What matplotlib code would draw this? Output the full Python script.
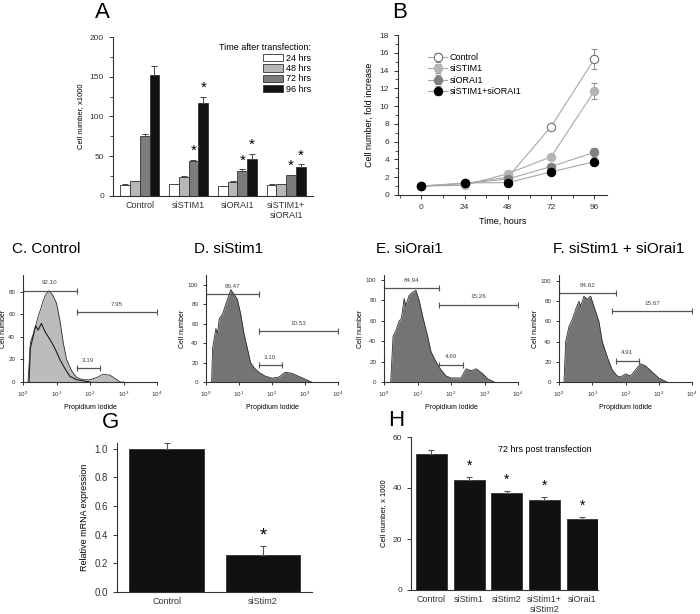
import numpy as np
import matplotlib
matplotlib.use('Agg')
import matplotlib.pyplot as plt
from matplotlib.ticker import MultipleLocator, FixedLocator, NullLocator

plt.rcParams['font.family'] = ['Liberation Sans', 'DejaVu Sans']
plt.rcParams['mathtext.default'] = 'regular'
plt.rcParams['axes.edgecolor'] = '#333333'
plt.rcParams['xtick.color'] = '#333333'
plt.rcParams['ytick.color'] = '#333333'

# ---------------- data ----------------
# A: cell number x1000 by time after transfection
grupos_a = ['Control', 'siSTIM1', 'siORAI1', 'siSTIM1+\nsiORAI1']
tiempos_a = ['24 hrs', '48 hrs', '72 hrs', '96 hrs']
val_24 = [14, 14.5, 12, 14]
val_48 = [18.5, 24, 17.5, 14.5]
val_72 = [76, 44, 32, 26]
val_96 = [152, 117, 47, 37]
err_24 = [0.8, 0.8, 0.6, 0.6]
err_48 = [0.8, 0.8, 1.5, 1.0]
err_72 = [2.5, 1.5, 1.5, 1.0]
err_96 = [11, 8, 6, 3]
estrellas_a = [(1, 2), (1, 3), (2, 2), (2, 3), (3, 2), (3, 3)]

# B: fold increase
horas_b = [0, 24, 48, 72, 96]
series_b = ['Control', 'siSTIM1', 'siORAI1', 'siSTIM1+siORAI1']
fold_control = [1.0, 1.3, 2.0, 7.7, 15.3]
fold_stim1 = [1.0, 1.1, 2.4, 4.3, 11.7]
fold_orai1 = [1.0, 1.3, 1.8, 3.2, 4.8]
fold_combo = [1.0, 1.35, 1.4, 2.6, 3.75]
errb_control = [0.05, 0.1, 0.15, 0.2, 1.1]
errb_stim1 = [0.05, 0.1, 0.2, 0.3, 0.9]
errb_orai1 = [0.05, 0.1, 0.15, 0.3, 0.5]
errb_combo = [0.05, 0.1, 0.1, 0.2, 0.2]

# C-F: histograms (log10 of PI intensity, cell count)
c_x = [0.15, 0.22, 0.3, 0.38, 0.45, 0.53, 0.6, 0.68, 0.78, 0.89, 1.0, 1.1, 1.2, 1.3,
       1.45, 1.6, 1.8, 2.0, 2.2, 2.4, 2.6, 2.8, 2.9, 3.0]
c_y = [0, 35, 42, 50, 58, 65, 72, 78, 81, 77, 70, 55, 35, 20, 10, 4, 2, 2, 4, 7, 6, 2, 0, 0]
c2_x = [0.18, 0.22, 0.3, 0.38, 0.45, 0.55, 0.65, 0.8, 0.95, 1.1, 1.25, 1.4, 1.6, 1.8, 2.0]
c2_y = [0, 30, 40, 50, 46, 52, 45, 38, 30, 20, 12, 5, 2, 1, 0]
d_x = [0.17, 0.2, 0.3, 0.35, 0.4, 0.5, 0.6, 0.75, 0.85, 0.95, 1.05, 1.15, 1.25, 1.35,
       1.45, 1.6, 1.8, 2.0, 2.2, 2.4, 2.6, 2.8, 3.0, 3.2]
d_y = [0, 35, 55, 50, 65, 70, 80, 95, 90, 85, 70, 50, 35, 20, 15, 10, 6, 4, 5, 10, 9, 6, 3, 0]
e_x = [0.2, 0.27, 0.35, 0.45, 0.52, 0.6, 0.65, 0.75, 0.85, 0.95, 1.05, 1.15, 1.3, 1.4,
       1.55, 1.7, 1.85, 2.0, 2.3, 2.45, 2.6, 2.75, 2.95, 3.1, 3.3]
e_y = [0, 45, 50, 60, 62, 82, 75, 85, 88, 90, 80, 65, 45, 30, 20, 12, 6, 4, 4, 13, 11, 13, 8, 3, 0]
f_x = [0.15, 0.2, 0.3, 0.4, 0.5, 0.6, 0.65, 0.75, 0.85, 0.95, 1.05, 1.2, 1.3, 1.45,
       1.6, 1.75, 1.85, 2.0, 2.15, 2.3, 2.45, 2.6, 2.8, 3.0, 3.25]
f_y = [0, 40, 55, 62, 72, 80, 75, 85, 82, 85, 75, 60, 40, 25, 12, 6, 5, 8, 6, 12, 18, 16, 10, 4, 0]

# gates: (label, log lo, log hi, y)
gates_c = [('92.10', 0.0, 1.6, 81), ('7.95', 1.6, 4.0, 62), ('3.19', 1.6, 2.3, 12)]
gates_d = [('89.47', 0.0, 1.6, 90), ('10.53', 1.6, 4.0, 52), ('3.10', 1.6, 2.3, 17)]
gates_e = [('84.94', 0.0, 1.65, 92), ('15.26', 1.65, 4.0, 76), ('4.69', 1.65, 2.35, 17)]
gates_f = [('84.62', 0.0, 1.7, 88), ('15.67', 1.6, 4.0, 70), ('4.91', 1.7, 2.4, 21)]

# G: relative mRNA
grupos_g = ['Control', 'siStim2']
val_g = [1.0, 0.26]
err_g = [0.04, 0.06]

# H: cell number 72 h
grupos_h = ['Control', 'siStim1', 'siStim2', 'siStim1+\nsiStim2', 'siOrai1']
val_h = [53.5, 43, 38, 35.3, 28]
err_h = [1.5, 1.3, 1.0, 1.3, 0.6]

# ---------------- figure ----------------
W, H = 700, 614
fig = plt.figure(figsize=(7.0, 6.14), dpi=100)


def caja(l, t, r, b):
    return [l / W, 1 - b / H, (r - l) / W, (b - t) / H]


def estilo(ax, fs=6):
    ax.spines['top'].set_visible(False)
    ax.spines['right'].set_visible(False)
    ax.tick_params(direction='out', labelsize=fs, length=3, width=0.7)
    ax.tick_params(which='minor', direction='out', length=2, width=0.6)
    for s in ax.spines.values():
        s.set_linewidth(0.8)


# ---- A ----
ax = fig.add_axes(caja(113, 37, 313, 196))
estilo(ax)
x = np.arange(len(grupos_a))
w = 0.2
colores_a = ['white', '#b8b8b8', '#7c7c7c', '#121212']
vals = [val_24, val_48, val_72, val_96]
errs = [err_24, err_48, err_72, err_96]
for i in range(4):
    xs = x + (i - 1.5) * w
    ax.bar(xs, vals[i], w, color=colores_a[i], edgecolor='#333333', linewidth=0.6,
           label=tiempos_a[i])
    ax.errorbar(xs, vals[i], yerr=[np.zeros(4), errs[i]], fmt='none', ecolor='#444444',
                elinewidth=0.7, capsize=2, capthick=0.7)
for g, t in estrellas_a:
    xs = g + (t - 1.5) * w
    ax.text(xs, vals[t][g] + errs[t][g] + 2, '*', ha='center', va='bottom', fontsize=11)
ax.set_xlim(-0.55, 3.55)
ax.set_ylim(0, 200)
ax.yaxis.set_major_locator(MultipleLocator(50))
ax.yaxis.set_minor_locator(MultipleLocator(25))
ax.set_xticks(x)
ax.set_xticklabels(grupos_a, fontsize=6.5)
ax.tick_params(axis='x', length=0)
ax.set_ylabel('Cell number, x1000', fontsize=5.5)
leg = ax.legend(loc='upper right', bbox_to_anchor=(1.02, 1.0), frameon=False, fontsize=6.5,
                title='Time after transfection:', title_fontsize=6.5, handlelength=2.2,
                handleheight=0.9, labelspacing=0.15, borderpad=0.2, handletextpad=0.3)
leg._legend_box.align = 'right'
fig.text(95 / W, 1 - 12 / H, 'A', fontsize=16, va='center', ha='left')

# ---- B ----
ax = fig.add_axes(caja(398, 35, 607, 195))
estilo(ax)
estilos_b = [('white', '#707070'), ('#b5b5b5', '#b5b5b5'), ('#808080', '#808080'), ('#000000', '#000000')]
datos_b = [fold_control, fold_stim1, fold_orai1, fold_combo]
errores_b = [errb_control, errb_stim1, errb_orai1, errb_combo]
for i in range(4):
    ax.errorbar(horas_b, datos_b[i], yerr=errores_b[i], color='#a8a8a8', lw=0.8,
                ecolor='#909090', elinewidth=0.8, capsize=2, marker='o', markersize=6,
                markerfacecolor=estilos_b[i][0], markeredgecolor=estilos_b[i][1],
                markeredgewidth=0.8, label=series_b[i])
ax.set_xlim(-13, 103)
ax.set_ylim(0, 18)
ax.set_xticks(horas_b)
ax.xaxis.set_minor_locator(MultipleLocator(12))
ax.yaxis.set_major_locator(MultipleLocator(2))
ax.yaxis.set_minor_locator(MultipleLocator(1))
ax.set_xlabel('Time, hours', fontsize=6.5)
ax.set_ylabel('Cell number, fold increase', fontsize=6.5)
ax.legend(loc='upper left', bbox_to_anchor=(0.12, 0.92), frameon=False, fontsize=6.5,
          handlelength=2.0, labelspacing=0.25, borderpad=0.1, handletextpad=0.3)
fig.text(392 / W, 1 - 12 / H, 'B', fontsize=16, va='center', ha='left')

# ---- C-F ----
paneles = [
    (caja(23, 275, 157, 382), 95, 'C. Control', 12, [c_x], [c_y], '#bcbcbc', gates_c),
    (caja(206, 275, 338, 382), 110, 'D. siStim1', 194, [d_x], [d_y], '#747474', gates_d),
    (caja(384, 275, 518, 382), 105, 'E. siOrai1', 376, [e_x], [e_y], '#747474', gates_e),
    (caja(559, 275, 692, 382), 106, 'F. siStim1 + siOrai1', 553, [f_x], [f_y], '#747474', gates_f),
]
for pos, ymax, titulo, tx, hx, hy, col, gates in paneles:
    ax = fig.add_axes(pos)
    estilo(ax, fs=4.5)
    ax.tick_params(length=2)
    ax.set_xscale('log')
    for xx, yy in zip(hx, hy):
        xv = 10 ** np.array(xx)
        ax.fill_between(xv, yy, color=col, lw=0)
        ax.plot(xv, yy, color='#303030', lw=0.6)
    if titulo.startswith('C'):
        ax.plot(10 ** np.array(c2_x), c2_y, color='#202020', lw=0.8)
    for lab, lo, hi, yg in gates:
        ax.plot([10 ** lo, 10 ** hi], [yg, yg], color='#555555', lw=0.9, marker='|',
                markersize=4, markeredgewidth=0.8)
        ax.text(10 ** ((lo + hi) / 2), yg + ymax * 0.05, lab, ha='center', va='bottom',
                fontsize=4.5, color='#444444')
    ax.set_xlim(1, 1e4)
    ax.set_ylim(0, ymax)
    ax.xaxis.set_major_locator(FixedLocator([1, 10, 100, 1000, 10000]))
    ax.xaxis.set_minor_locator(NullLocator())
    ax.yaxis.set_major_locator(MultipleLocator(20))
    ax.set_xlabel('Propidium Iodide', fontsize=5)
    ax.set_ylabel('Cell number', fontsize=5, labelpad=1)
    fig.text(tx / W, 1 - 249 / H, titulo, fontsize=11, va='center', ha='left')

# ---- G ----
ax = fig.add_axes(caja(117, 443, 312, 592))
estilo(ax)
xg = np.arange(len(grupos_g))
ax.bar(xg, val_g, 0.78, color='#111111', edgecolor='#333333', linewidth=0.6)
ax.errorbar(xg, val_g, yerr=[np.zeros(2), err_g], fmt='none', ecolor='#555555',
            elinewidth=0.8, capsize=2.5, capthick=0.8)
ax.text(xg[1], val_g[1] + err_g[1] + 0.015, '*', ha='center', va='bottom', fontsize=13)
ax.set_xlim(-0.52, 1.51)
ax.set_ylim(0, 1.04)
ax.yaxis.set_major_locator(MultipleLocator(0.2))
ax.set_yticklabels([])
ax.set_yticks(np.arange(0, 1.01, 0.2))
ax.set_yticklabels([f'{v:.1f}' for v in np.arange(0, 1.01, 0.2)])
ax.set_xticks(xg)
ax.set_xticklabels(grupos_g, fontsize=6.5)
ax.tick_params(axis='x', length=0)
ax.tick_params(axis='y', labelsize=7)
ax.set_ylabel('Relative mRNA expression', fontsize=6.5)
fig.text(102 / W, 1 - 423 / H, 'G', fontsize=16, va='center', ha='left')

# ---- H ----
ax = fig.add_axes(caja(411, 437, 598, 590))
estilo(ax)
xh = np.arange(len(grupos_h))
ax.bar(xh, val_h, 0.82, color='#111111', edgecolor='#333333', linewidth=0.6)
ax.errorbar(xh, val_h, yerr=[np.zeros(5), err_h], fmt='none', ecolor='#555555',
            elinewidth=0.8, capsize=2.5, capthick=0.8)
for i in range(1, 5):
    ax.text(xh[i], val_h[i] + err_h[i] + 1.5, '*', ha='center', va='bottom', fontsize=10)
ax.text(3.0, 55, '72 hrs post transfection', ha='center', va='center', fontsize=6.5)
ax.set_xlim(-0.54, 4.42)
ax.set_ylim(0, 60)
ax.yaxis.set_major_locator(MultipleLocator(20))
ax.set_xticks(xh)
ax.set_xticklabels(grupos_h, fontsize=6.5)
ax.tick_params(axis='x', length=0)
ax.set_ylabel('Cell number, x 1000', fontsize=5.5)
fig.text(388 / W, 1 - 420 / H, 'H', fontsize=16, va='center', ha='left')

fig.savefig('out.png', dpi=100)
